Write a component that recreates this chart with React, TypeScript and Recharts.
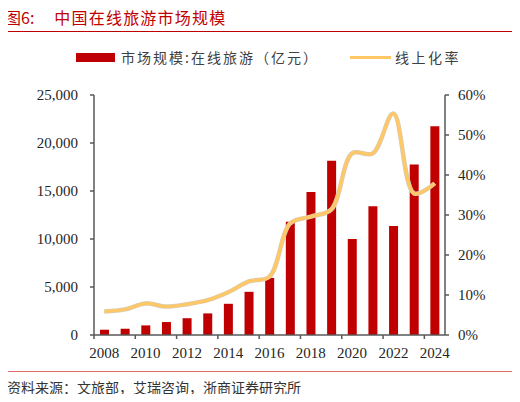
import { ComposedChart, Bar, Line, XAxis, YAxis } from 'recharts'

const years = ['2008', '2009', '2010', '2011', '2012', '2013', '2014', '2015', '2016',
  '2017', '2018', '2019', '2020', '2021', '2022', '2023', '2024']
const marketSize = [550, 650, 1000, 1350, 1750, 2250, 3250, 4500, 5950,
  11800, 14900, 18150, 10000, 13400, 11350, 17750, 21750]
const onlineRate = [5.9, 6.4, 7.9, 7.1, 7.7, 8.7, 10.7, 13.4, 14.6,
  27.9, 29.6, 31.4, 45.4, 45.4, 55.4, 35.4, 37.9]
const leftTicks = [0, 5000, 10000, 15000, 20000, 25000]
const rightTicks = [0, 10, 20, 30, 40, 50, 60]

const data = years.map((y, i) => ({ year: y, size: marketSize[i], rate: onlineRate[i] }))

const RED = '#C00000'
const GOLD = '#FFC864'
const AXIS = '#595959'
const SERIF = '"Liberation Serif", "Times New Roman", serif'
const CJK = '"Noto Sans CJK SC", sans-serif'

const PLOT_LEFT = 94
const PLOT_RIGHT = 445
const BAND = (PLOT_RIGHT - PLOT_LEFT) / years.length

// centripetal catmull-rom, close to the office "smoothed line"
function smoothCurve(context: any) {
  let pts: number[][] = []
  const alpha = 0.5
  const dist = (a: number[], b: number[]) => Math.pow(Math.hypot(b[0] - a[0], b[1] - a[1]), alpha)
  return {
    areaStart() {},
    areaEnd() {},
    lineStart() { pts = [] },
    point(x: number, y: number) { pts.push([+x, +y]) },
    lineEnd() {
      if (!pts.length) return
      context.moveTo(pts[0][0], pts[0][1])
      for (let i = 0; i < pts.length - 1; i++) {
        const p0 = pts[i - 1]
        const p1 = pts[i]
        const p2 = pts[i + 1]
        const p3 = pts[i + 2]
        const l12 = dist(p1, p2)
        let c1 = p1
        let c2 = p2
        if (p0) {
          const l01 = dist(p0, p1)
          if (l01 > 1e-6) {
            const a = 2 * l01 * l01 + 3 * l01 * l12 + l12 * l12
            const n = 3 * l01 * (l01 + l12)
            c1 = [0, 1].map(k => (p1[k] * a - p0[k] * l12 * l12 + p2[k] * l01 * l01) / n)
          }
        }
        if (p3) {
          const l23 = dist(p2, p3)
          if (l23 > 1e-6) {
            const b = 2 * l23 * l23 + 3 * l23 * l12 + l12 * l12
            const m = 3 * l23 * (l23 + l12)
            c2 = [0, 1].map(k => (p2[k] * b + p1[k] * l23 * l23 - p3[k] * l12 * l12) / m)
          }
        }
        context.bezierCurveTo(c1[0], c1[1], c2[0], c2[1], p2[0], p2[1])
      }
    },
  }
}

function YearTick({ x, y, payload, index }: any) {
  if (index % 2 !== 0) return null
  const bx = x - BAND / 2
  return (
    <g>
      <line x1={bx} x2={bx} y1={y} y2={y + 4} stroke={AXIS} strokeWidth={1.5} />
      <text x={x} y={y + 18} textAnchor="middle" dominantBaseline="central"
        fontFamily={SERIF} fontSize={15} fill="#262626">{payload.value}</text>
    </g>
  )
}

export default function App() {
  return (
    <div style={{ position: 'relative', width: 520, height: 402, margin: -8, background: '#fff', overflow: 'hidden' }}>
      <div style={{ position: 'absolute', left: 5, top: 5, fontFamily: CJK, fontSize: 16, color: RED, whiteSpace: 'nowrap' }}>
        <span>图6:</span>
        <span style={{ marginLeft: 20, letterSpacing: 1.2 }}>中国在线旅游市场规模</span>
      </div>
      <div style={{ position: 'absolute', left: 5, top: 31, width: 509, height: 1, background: RED }} />

      {/* legend */}
      <div style={{ position: 'absolute', left: 0, top: 47, display: 'flex', alignItems: 'center',
        fontFamily: CJK, fontSize: 14, color: '#404040', height: 20, whiteSpace: 'nowrap' }}>
        <span style={{ marginLeft: 76, width: 39, height: 9, background: RED, display: 'inline-block' }} />
        <span style={{ marginLeft: 6, letterSpacing: 2 }}>市场规模:在线旅游（亿元）</span>
        <span style={{ marginLeft: 31, width: 41, height: 3, background: GOLD, display: 'inline-block' }} />
        <span style={{ marginLeft: 4, letterSpacing: 2.5 }}>线上化率</span>
      </div>

      <div style={{ position: 'absolute', left: 0, top: 0 }}>
        <ComposedChart width={520} height={400} data={data}
          margin={{ top: 95, right: 15, left: 34, bottom: 35 }} barCategoryGap={0}>
          <XAxis dataKey="year" interval={0} tickLine={false} tickSize={0} tickMargin={0}
            height={30} axisLine={{ stroke: AXIS, strokeWidth: 1.5 }} tick={<YearTick />} />
          <YAxis yAxisId="left" width={60} domain={[0, 25000]} ticks={leftTicks}
            tickFormatter={(v: number) => v.toLocaleString('en-US')}
            tickSize={4} tickMargin={12}
            axisLine={{ stroke: AXIS, strokeWidth: 1.5 }} tickLine={{ stroke: AXIS, strokeWidth: 1.5 }}
            tick={{ fontFamily: SERIF, fontSize: 15, fill: '#262626' }} />
          <YAxis yAxisId="right" orientation="right" width={60} domain={[0, 60]} ticks={rightTicks}
            tickFormatter={(v: number) => `${v}%`}
            tickSize={4} tickMargin={9}
            axisLine={{ stroke: AXIS, strokeWidth: 1.5 }} tickLine={{ stroke: AXIS, strokeWidth: 1.5 }}
            tick={{ fontFamily: SERIF, fontSize: 15, fill: '#262626', textAnchor: 'start' }} />
          <Bar yAxisId="left" dataKey="size" fill={RED} barSize={9} isAnimationActive={false} />
          <Line yAxisId="right" type={smoothCurve as any} dataKey="rate" stroke="#d9cbb0" strokeWidth={4.5}
            dot={false} activeDot={false} isAnimationActive={false} />
          <Line yAxisId="right" type={smoothCurve as any} dataKey="rate" stroke={GOLD} strokeWidth={3}
            dot={false} activeDot={false} isAnimationActive={false} />
        </ComposedChart>
      </div>

      <div style={{ position: 'absolute', left: 5, top: 371, width: 509, height: 1, background: '#E07070' }} />
      <div style={{ position: 'absolute', left: 7, top: 377, fontFamily: CJK, fontSize: 14, color: '#333', whiteSpace: 'nowrap' }}>
        资料来源：文旅部，艾瑞咨询，浙商证券研究所
      </div>
    </div>
  )
}
